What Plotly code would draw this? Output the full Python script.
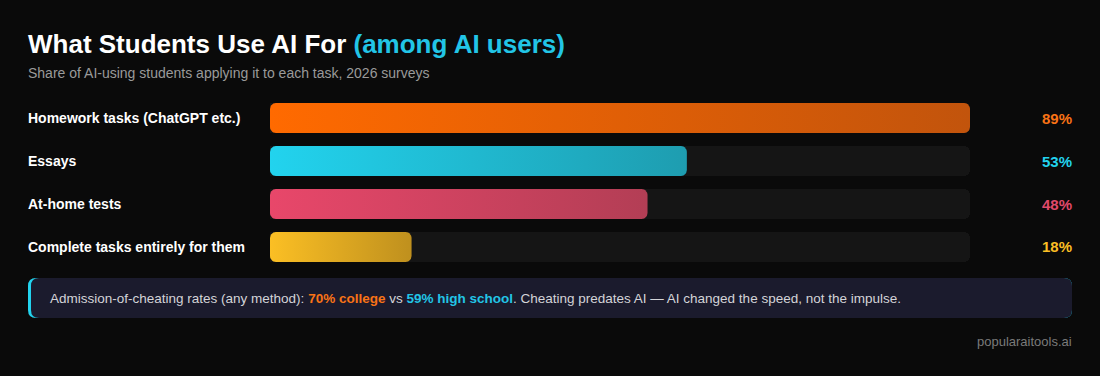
import plotly.graph_objects as go
import numpy as np

# ---- data ----
categories = ["Homework tasks (ChatGPT etc.)", "Essays", "At-home tests", "Complete tasks entirely for them"]
values = [89, 53, 48, 18]
value_labels = ["89%", "53%", "48%", "18%"]
colors_start = ["#ff6a00", "#22d3ee", "#e8476a", "#fbbf24"]
colors_end = ["#c2540c", "#1e9db0", "#b33e55", "#bf901e"]
label_colors = ["#f97316", "#22d3ee", "#e0496a", "#fbbf24"]

W, H = 1100, 376
ML, MR, MT, MB = 270, 130, 103, 114
PW, PH = W - ML - MR, H - MT - MB
XMAX = max(values)
ROW_PX = 43.0
HALF = 0.349
YR = [len(values) - 1 + HALF, -HALF]
PADL = 2  # annotation inner offset compensation

def px2paper_x(px):
    return (px - ML) / PW

def px2paper_y(py):
    return (H - MB - py) / PH

fig = go.Figure()

# tracks
fig.add_trace(go.Bar(
    x=[XMAX] * len(values), y=list(range(len(values))), orientation="h",
    width=2 * HALF, marker=dict(color="#151515", cornerradius=6, line=dict(width=0)),
    hoverinfo="skip", showlegend=False,
))

# gradient bars as rounded polygons
rx = 6 * XMAX / PW
ry = 6 / ROW_PX

def rounded_rect(x0, x1, y0, y1, rx, ry, n=8):
    xs, ys = [], []
    corners = [
        (x1 - rx, y0 + ry, -np.pi / 2, 0),
        (x1 - rx, y1 - ry, 0, np.pi / 2),
        (x0 + rx, y1 - ry, np.pi / 2, np.pi),
        (x0 + rx, y0 + ry, np.pi, 1.5 * np.pi),
    ]
    for cx, cy, a0, a1 in corners:
        for t in np.linspace(a0, a1, n):
            xs.append(cx + rx * np.cos(t))
            ys.append(cy + ry * np.sin(t))
    xs.append(xs[0]); ys.append(ys[0])
    return xs, ys

for i, v in enumerate(values):
    xs, ys = rounded_rect(0, v, i - HALF, i + HALF, rx, ry)
    fig.add_trace(go.Scatter(
        x=xs, y=ys, mode="lines", fill="toself", line=dict(width=0),
        fillgradient=dict(type="horizontal", colorscale=[[0, colors_start[i]], [1, colors_end[i]]]),
        hoverinfo="skip", showlegend=False,
    ))

FONT = "Liberation Sans, Arial"
annotations = []
for i, (c, lab, col) in enumerate(zip(categories, value_labels, label_colors)):
    annotations.append(dict(x=px2paper_x(28 - PADL), xref="paper", y=i, yref="y", text=f"<b>{c}</b>",
                            xanchor="left", yanchor="middle", showarrow=False,
                            font=dict(size=14, color="#ffffff", family=FONT)))
    annotations.append(dict(x=px2paper_x(1072 + PADL), xref="paper", y=i, yref="y", text=f"<b>{lab}</b>",
                            xanchor="right", yanchor="middle", showarrow=False,
                            font=dict(size=15, color=col, family=FONT)))

# title / subtitle
annotations.append(dict(x=px2paper_x(28 - PADL), xref="paper", y=px2paper_y(44), yref="paper",
                        text="<b>What Students Use AI For <span style='color:#22c5e6'>(among AI users)</span></b>",
                        xanchor="left", yanchor="middle", showarrow=False,
                        font=dict(size=26, color="#ffffff", family=FONT)))
annotations.append(dict(x=px2paper_x(28 - PADL), xref="paper", y=px2paper_y(73), yref="paper",
                        text="Share of AI-using students applying it to each task, 2026 surveys",
                        xanchor="left", yanchor="middle", showarrow=False,
                        font=dict(size=14, color="#9a9a9a", family=FONT)))

# note box
def rr_path(x0, y0, x1, y1, r):
    X = px2paper_x; Y = px2paper_y
    return (f"M {X(x0 + r)} {Y(y0)} L {X(x1 - r)} {Y(y0)} Q {X(x1)} {Y(y0)} {X(x1)} {Y(y0 + r)} "
            f"L {X(x1)} {Y(y1 - r)} Q {X(x1)} {Y(y1)} {X(x1 - r)} {Y(y1)} "
            f"L {X(x0 + r)} {Y(y1)} Q {X(x0)} {Y(y1)} {X(x0)} {Y(y1 - r)} "
            f"L {X(x0)} {Y(y0 + r)} Q {X(x0)} {Y(y0)} {X(x0 + r)} {Y(y0)} Z")

shapes = [
    dict(type="path", xref="paper", yref="paper", path=rr_path(28, 278, 1072, 318, 8),
         fillcolor="#22d3ee", line=dict(width=0), layer="below"),
    dict(type="path", xref="paper", yref="paper", path=rr_path(31, 278, 1072, 318, 8),
         fillcolor="#1b1b2d", line=dict(width=0), layer="below"),
]

annotations.append(dict(x=px2paper_x(50 - PADL), xref="paper", y=px2paper_y(298.5), yref="paper",
                        text=("Admission-of-cheating rates (any method): "
                              "<b><span style='color:#f97316'>70% college</span></b> vs "
                              "<b><span style='color:#22c5e6'>59% high school</span></b>. "
                              "Cheating predates AI — AI changed the speed, not the impulse."),
                        xanchor="left", yanchor="middle", showarrow=False,
                        font=dict(size=13.5, color="#d4d4d8", family=FONT)))
annotations.append(dict(x=px2paper_x(1072 + PADL), xref="paper", y=px2paper_y(341), yref="paper",
                        text="popularaitools.ai", xanchor="right", yanchor="middle", showarrow=False,
                        font=dict(size=13, color="#7a7a7a", family=FONT)))

fig.update_layout(
    width=W, height=H,
    margin=dict(l=ML, r=MR, t=MT, b=MB, pad=0),
    paper_bgcolor="#0a0a0a", plot_bgcolor="#0a0a0a",
    xaxis=dict(range=[0, XMAX], visible=False, fixedrange=True),
    yaxis=dict(range=YR, visible=False, fixedrange=True),
    annotations=annotations, shapes=shapes,
    showlegend=False, bargap=0,
)

fig.write_html("out.html", config={"displayModeBar": False})
